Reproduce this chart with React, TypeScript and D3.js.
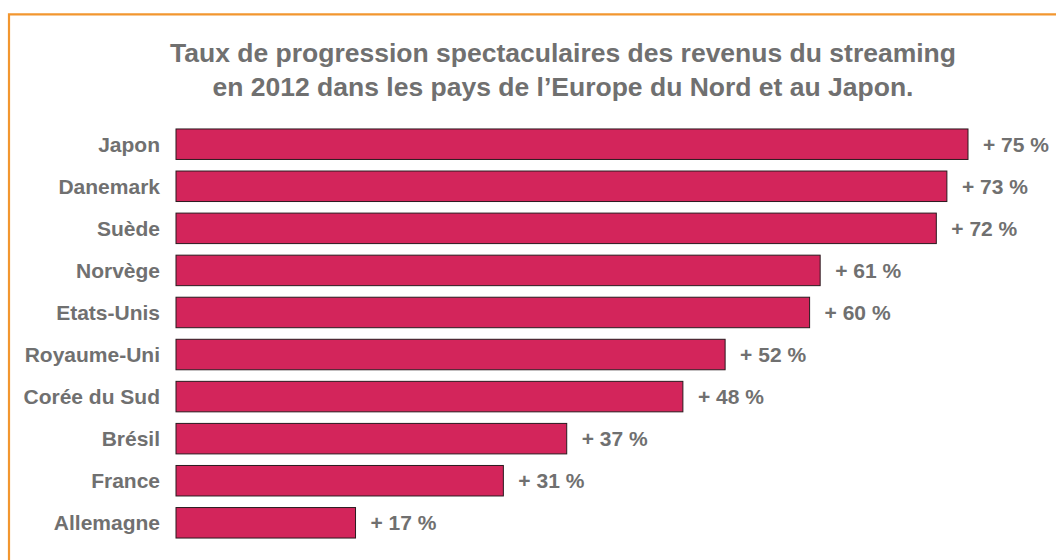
import React from "react";
import * as d3 from "d3";

const categories = ["Japon", "Danemark", "Suède", "Norvège", "Etats-Unis", "Royaume-Uni", "Corée du Sud", "Brésil", "France", "Allemagne"];
const values = [75, 73, 72, 61, 60, 52, 48, 37, 31, 17];
const titleLines = [
  "Taux de progression spectaculaires des revenus du streaming",
  "en 2012 dans les pays de l\u2019Europe du Nord et au Japon.",
];

const W = 1056;
const H = 560;
const FONT = "'Liberation Sans', Arial, sans-serif";
const GREY = "#707070";

export default function App() {
  const x = d3.scaleLinear().domain([0, 100]).range([176, 1232]);
  const y = d3.scaleBand<string>().domain(categories).range([117.4, 549.6]).padding(0.275);
  return (
    <svg width={W} height={H} style={{ position: "absolute", left: 0, top: 0, background: "#fff" }}>
      <rect x={0} y={0} width={W} height={H} fill="#fff" />
      <path d={`M9,${H + 5} L9,14.3 L${W + 5},14.3`} fill="none" stroke="#f2962f" strokeWidth={2.2} />
      {titleLines.map((t, i) => (
        <text key={i} x={563} y={62.3 + i * 33.2} textAnchor="middle" fontFamily={FONT} fontWeight="bold" fontSize={26.5} fill={GREY}>
          {t}
        </text>
      ))}
      {categories.map((c, i) => {
        const yy = y(c)!;
        const bw = y.bandwidth();
        return (
          <g key={c}>
            <rect x={x(0)} y={yy} width={x(values[i]) - x(0)} height={bw} fill="#d3255b" stroke="#2a1a1f" strokeWidth={1} />
            <text x={160} y={yy + bw / 2} dy="0.35em" textAnchor="end" fontFamily={FONT} fontWeight="bold" fontSize={21} fill={GREY}>
              {c}
            </text>
            <text x={x(values[i]) + 15} y={yy + bw / 2} dy="0.35em" textAnchor="start" fontFamily={FONT} fontWeight="bold" fontSize={21} fill={GREY}>
              {`+ ${values[i]} %`}
            </text>
          </g>
        );
      })}
    </svg>
  );
}
